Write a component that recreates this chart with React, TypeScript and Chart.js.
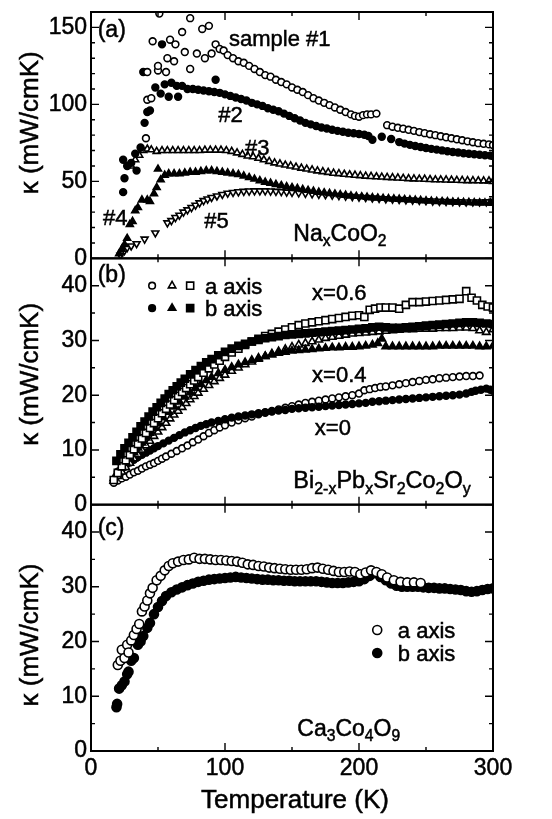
import React, { useEffect, useRef } from 'react';
import { Chart, registerables } from 'chart.js';

Chart.register(...registerables);

type Pt = [number, number];

// ---------- Panel (a): NaxCoO2 ----------
const naSample1: Pt[] = [
  [41, 78], [42, 103], [45, 104], [42, 121], [46, 141], [50, 122], [50, 125], [51, 159], [56, 121], [57, 130],
  [59, 142], [62, 128], [63, 139], [68, 147], [70, 134], [74, 156], [74, 123], [79, 133], [83, 149], [85, 130],
  [88, 151], [90, 133], [93, 139], [96, 136], [99, 135], [102, 132], [106, 130], [110, 128], [114, 127], [118, 125],
  [122, 123], [126, 121], [130, 119], [134, 118], [138, 116], [142, 114.5], [146, 113], [150, 111], [154, 109.5],
  [158, 108], [162, 106], [166, 104], [170, 102.5], [174, 101], [178, 99.5], [182, 98], [186, 96.5], [190, 95],
  [194, 93.5], [197, 92.5], [200, 92], [203, 93], [206, 93.5], [209, 93.5], [213, 94], [221, 86.5], [225, 85.5],
  [229, 84.8], [233, 84.2], [237, 83.5], [241, 82.8], [245, 82], [249, 81.3], [253, 80.6], [257, 80], [261, 79.3],
  [265, 78.6], [269, 78], [273, 77.3], [277, 76.7], [281, 76], [285, 75.4], [289, 74.8], [293, 74.4], [297, 74], [300, 73.6],
];
const naSample2: Pt[] = [
  [24, 43], [25, 52], [24, 64], [27, 60], [30, 62], [33, 68], [34, 57], [37, 72], [39, 121], [40, 88],
  [42, 95], [44, 96], [48, 111], [52, 107], [53, 139], [55, 113], [58, 105], [60, 114], [64, 112], [65, 105],
  [68, 112], [72, 110], [76, 110], [80, 109.5], [84, 109], [88, 108.5], [92, 108], [93, 116], [96, 107.5], [100, 106.5],
  [104, 105.5], [108, 104.5], [112, 103.5], [116, 102.5], [120, 101], [124, 100], [128, 99], [132, 97.5], [136, 96.5],
  [140, 95.5], [144, 94], [148, 92.5], [152, 91], [156, 89.5], [160, 88], [164, 87], [168, 86], [172, 85], [176, 84.3],
  [180, 83.5], [184, 82.8], [188, 82.2], [192, 81.6], [196, 81.2], [200, 80.8], [204, 80.3], [207, 79.5], [210, 77],
  [217, 79], [224, 77.5], [230, 75.5], [234, 74.5], [238, 73.7], [242, 73], [246, 72.3], [250, 71.7], [254, 71.1],
  [258, 70.6], [262, 70.1], [266, 69.6], [270, 69.1], [274, 68.7], [278, 68.3], [282, 67.9], [286, 67.6], [290, 67.3],
  [294, 67], [298, 66.7], [300, 66.5],
];
const naSample3: Pt[] = [
  [30, 60], [33, 64], [36, 67], [39, 70], [42, 71], [45, 70.5], [49, 69.5], [53, 70], [57, 70], [61, 70], [65, 70],
  [69, 70], [73, 70], [77, 70], [81, 70], [85, 70.3], [89, 70.3], [93, 70.3], [97, 70.3], [101, 70], [105, 69.5],
  [109, 68.5], [113, 67.5], [117, 66.5], [121, 66], [125, 65], [129, 64], [133, 63], [137, 62], [141, 61.3], [145, 60.6],
  [149, 60], [153, 59.3], [157, 58.6], [161, 58], [165, 57.4], [169, 56.8], [173, 56.3], [177, 55.8], [181, 55.3],
  [185, 55], [189, 54.6], [193, 54.3], [197, 54], [201, 53.7], [205, 53.4], [209, 53.2], [213, 53], [217, 52.8],
  [221, 52.6], [225, 52.4], [229, 52.2], [233, 52], [237, 51.8], [241, 51.6], [245, 51.5], [249, 51.4], [253, 51.2],
  [257, 51], [261, 51], [265, 50.9], [269, 50.8], [273, 50.7], [277, 50.6], [281, 50.5], [285, 50.5], [289, 50.4],
  [293, 50.3], [297, 50.3], [300, 50],
];
const naSample4: Pt[] = [
  [21, 3], [23, 6], [25, 9], [27, 13], [29, 22], [31, 24], [33, 31], [35, 33], [38, 38], [42, 38], [44, 37], [47, 42],
  [49, 46], [50, 58], [52, 51], [55, 54], [58, 55], [62, 55], [66, 55], [70, 55.5], [74, 56], [78, 56], [82, 56.5],
  [86, 57], [90, 57], [94, 56.5], [98, 56], [102, 55.5], [106, 55], [110, 54.5], [114, 53.5], [118, 52.5], [122, 51.5],
  [126, 50.5], [130, 49.5], [134, 48.8], [138, 48], [142, 47.3], [146, 46.6], [150, 46], [154, 45.4], [158, 44.8],
  [162, 44.2], [166, 43.6], [170, 43], [174, 42.6], [178, 42.2], [182, 41.8], [186, 41.4], [190, 41], [194, 40.6],
  [198, 40.3], [202, 40], [206, 39.7], [210, 39.4], [214, 39.2], [218, 39], [222, 38.8], [226, 38.6], [230, 38.4],
  [234, 38.2], [238, 38], [242, 37.8], [246, 37.6], [250, 37.4], [254, 37.2], [258, 37], [262, 36.9], [266, 36.8],
  [270, 36.6], [274, 36.5], [278, 36.4], [282, 36.3], [286, 36.2], [290, 36.1], [294, 36], [298, 36], [300, 35.8],
];
const naSample5: Pt[] = [
  [22, 2], [25, 5], [27, 7], [30, 8], [34, 9.5], [40, 12.5], [48, 16.5], [57, 23], [60, 24.5], [63, 26.5], [66, 28],
  [69, 30], [72, 31.5], [75, 33], [78, 34.5], [81, 36], [84, 37.5], [87, 38.5], [90, 39.5], [94, 40.5], [98, 41.5],
  [102, 42.3], [106, 42.8], [110, 43.2], [114, 43.5], [118, 43.7], [122, 43.8], [126, 43.8], [130, 43.8], [134, 43.7],
  [138, 43.5], [142, 43.3], [146, 43], [150, 42.8], [155, 42.5], [160, 42.2], [165, 41.9], [170, 41.6], [175, 41.3],
  [180, 41], [185, 40.7], [190, 40.4], [195, 40.1], [200, 39.8], [205, 39.5], [210, 39.2], [215, 38.9], [220, 38.6],
  [225, 38.4], [230, 38.2], [235, 38], [240, 37.8], [245, 37.6], [250, 37.4], [255, 37.2], [260, 37], [265, 36.9],
  [270, 36.8], [275, 36.7], [280, 36.6], [285, 36.6], [290, 36.6], [295, 36.7], [300, 37],
];

// ---------- Panel (b): Bi2-xPbxSr2Co2Oy ----------
const bi00a: Pt[] = [
  [17, 4], [20, 4.4], [23, 4.8], [26, 5.1], [29, 5.5], [32, 5.9], [35, 6.2], [38, 6.6], [41, 7], [44, 7.3], [47, 7.6],
  [50, 8], [53, 8.4], [56, 8.8], [60, 9.3], [64, 9.8], [68, 10.3], [72, 10.8], [76, 11.4], [80, 11.9], [84, 12.5],
  [88, 13.1], [92, 13.6], [96, 14.1], [100, 14.5], [105, 15], [110, 15.4], [115, 15.8], [120, 16.1], [125, 16.5],
  [130, 16.8], [135, 17.1], [140, 17.4], [145, 17.7], [150, 18], [155, 18.3], [160, 18.6], [165, 18.8], [170, 19],
  [175, 19.2], [180, 19.4], [185, 19.6], [190, 19.8], [195, 20], [200, 20.3], [204, 20.9], [208, 21.1], [212, 21.3],
  [216, 21.5], [220, 21.6], [225, 21.8], [230, 22], [235, 22.2], [240, 22.4], [245, 22.6], [250, 22.8], [255, 22.9],
  [260, 23.1], [265, 23.2], [270, 23.3], [275, 23.4], [280, 23.5], [285, 23.5], [290, 23.6],
];
const bi00b: Pt[] = [
  [20, 6], [23, 6.6], [26, 7.2], [29, 7.7], [32, 8.2], [35, 8.7], [38, 9.1], [41, 9.5], [44, 9.9], [47, 10.3],
  [50, 10.7], [54, 11.2], [58, 11.7], [62, 12.2], [66, 12.7], [70, 13.2], [74, 13.6], [78, 14], [82, 14.4], [86, 14.7],
  [90, 15], [95, 15.3], [100, 15.6], [105, 15.9], [110, 16.1], [115, 16.3], [120, 16.5], [125, 16.7], [130, 16.9],
  [135, 17], [140, 17.2], [145, 17.3], [150, 17.5], [155, 17.6], [160, 17.7], [165, 17.8], [170, 17.9], [175, 18],
  [180, 18.1], [185, 18.2], [190, 18.3], [195, 18.4], [200, 18.5], [205, 18.6], [210, 18.8], [215, 18.9], [220, 19],
  [225, 19.1], [230, 19.2], [235, 19.3], [240, 19.4], [245, 19.5], [250, 19.6], [255, 19.7], [260, 19.8], [265, 19.9],
  [270, 20], [275, 20.1], [280, 20.3], [284, 20.6], [287, 20.8], [291, 21], [295, 21.2], [298, 21], [300, 20.8],
];
const bi04a: Pt[] = [
  [17, 4.3], [20, 5.2], [23, 6], [26, 6.8], [29, 7.6], [32, 8.4], [35, 9.2], [38, 10], [41, 10.8], [44, 11.6],
  [47, 12.5], [50, 13.3], [53, 14.1], [56, 14.9], [59, 15.7], [62, 16.4], [65, 17.1], [68, 17.8], [71, 18.5], [74, 19.2],
  [77, 19.8], [80, 20.4], [84, 21.1], [88, 21.8], [92, 22.5], [96, 23.1], [100, 23.7], [105, 24.4], [110, 25], [115, 25.6],
  [120, 26.1], [125, 26.6], [130, 27.1], [135, 27.6], [140, 28], [145, 28.4], [150, 28.8], [155, 29.2], [160, 29.5],
  [165, 29.8], [170, 30.1], [175, 30.4], [180, 30.6], [185, 30.8], [190, 31], [195, 31.2], [200, 31.3], [205, 31.4],
  [210, 31.5], [215, 31.6], [220, 31.7], [225, 31.8], [230, 31.9], [235, 32], [240, 32], [245, 32.1], [250, 32.1],
  [255, 32.1], [260, 32.2], [265, 32.2], [270, 32.2], [275, 32.3], [280, 32.3], [285, 32.2], [290, 31.8], [295, 31.5], [300, 32],
];
const bi04b: Pt[] = [
  [17, 4.8], [20, 5.8], [23, 6.8], [26, 7.7], [29, 8.6], [32, 9.5], [35, 10.4], [38, 11.3], [41, 12.2], [44, 13.1],
  [47, 14], [50, 14.8], [54, 15.9], [58, 16.9], [62, 17.9], [66, 18.8], [70, 19.7], [74, 20.5], [78, 21.3], [82, 22],
  [86, 22.7], [90, 23.3], [95, 24], [100, 24.6], [105, 25.1], [110, 25.6], [115, 26], [120, 26.4], [125, 26.8],
  [130, 27.1], [135, 27.4], [140, 27.7], [145, 27.9], [150, 28.1], [155, 28.2], [160, 28.3], [165, 28.4], [170, 28.5],
  [175, 28.6], [180, 28.7], [185, 28.7], [190, 28.8], [195, 28.8], [200, 28.9], [205, 29], [210, 29.2], [214, 29.5],
  [217, 30.3], [220, 28.9], [225, 28.9], [230, 28.9], [235, 28.9], [240, 28.9], [245, 28.9], [250, 28.9], [255, 28.9],
  [260, 29], [265, 29], [270, 29], [275, 29], [280, 29], [285, 29], [290, 28.9], [295, 28.9], [300, 29],
];
const bi06a: Pt[] = [
  [17, 4.5], [20, 5.8], [23, 7], [26, 8.1], [29, 9.1], [32, 10.1], [35, 11.1], [38, 12.1], [41, 13.1], [44, 14],
  [47, 14.9], [50, 15.8], [53, 16.7], [56, 17.5], [59, 18.3], [62, 19.1], [65, 19.9], [68, 20.6], [71, 21.3], [74, 22],
  [77, 22.7], [80, 23.3], [84, 24.1], [88, 24.9], [92, 25.6], [96, 26.3], [100, 27], [105, 27.8], [110, 28.5], [115, 29.2],
  [120, 29.8], [125, 30.3], [130, 30.8], [135, 31.2], [140, 31.6], [145, 32], [150, 32.4], [155, 32.8], [160, 33.1],
  [165, 33.3], [170, 33.5], [175, 33.7], [180, 33.9], [185, 34.1], [190, 34.3], [195, 34.5], [200, 34.6], [204, 34.3],
  [208, 35.6], [212, 35.8], [216, 36], [220, 36], [225, 36], [230, 35.8], [235, 36.5], [240, 37], [245, 37], [250, 37.1],
  [255, 37.2], [260, 37.3], [265, 37.4], [270, 37.5], [275, 37.6], [280, 39], [284, 37.8], [288, 37.3], [292, 36.5],
  [296, 36.2], [300, 36],
];
const bi06b: Pt[] = [
  [19, 8], [22, 9.2], [25, 10.3], [28, 11.3], [31, 12.3], [34, 13.3], [37, 14.3], [40, 15.2], [43, 16.1], [46, 17],
  [49, 17.8], [52, 18.6], [55, 19.4], [58, 20.2], [61, 20.9], [64, 21.6], [67, 22.3], [70, 23], [74, 23.8], [78, 24.6],
  [82, 25.3], [86, 26], [90, 26.6], [95, 27.3], [100, 27.9], [105, 28.5], [110, 29], [115, 29.4], [120, 29.8], [125, 30.1],
  [130, 30.4], [135, 30.6], [140, 30.8], [145, 31], [150, 31.1], [155, 31.2], [160, 31.3], [165, 31.4], [170, 31.5],
  [175, 31.6], [180, 31.7], [185, 31.8], [190, 31.9], [195, 32], [200, 32.1], [205, 32.2], [210, 32.4], [215, 32.5],
  [220, 32.4], [225, 32.3], [230, 32.3], [235, 32.4], [240, 32.5], [245, 32.6], [250, 32.7], [255, 32.8], [260, 32.9],
  [265, 33], [270, 33.1], [275, 33.2], [280, 33.3], [285, 33.3], [290, 33.2], [295, 33.1], [300, 33],
];

// ---------- Panel (c): Ca3Co4O9 ----------
const caA: Pt[] = [
  [20, 15.7], [22, 16.5], [23, 18.5], [25, 17], [27, 19.4], [28, 18], [30, 20.2], [32, 21.2], [34, 22.3], [36, 23.2],
  [38, 25.5], [40, 26.4], [42, 27.5], [44, 28.8], [46, 29.8], [49, 31.2], [52, 32], [55, 33], [58, 33.8], [61, 34.3],
  [65, 34.6], [69, 34.9], [73, 35], [77, 35.3], [81, 35.1], [85, 35.1], [89, 35], [93, 34.9], [97, 34.9], [101, 34.8],
  [105, 34.7], [109, 34.6], [113, 34.4], [117, 34.1], [121, 34], [125, 33.8], [129, 33.7], [133, 33.5], [137, 33.4],
  [141, 33.3], [145, 33.2], [149, 33.1], [153, 33.1], [157, 33.1], [161, 33.2], [165, 33.4], [169, 33.5], [173, 33.3],
  [177, 33.1], [181, 32.9], [185, 32.7], [189, 32.7], [193, 32.8], [197, 32.7], [201, 32.3], [205, 32.6], [209, 33],
  [213, 32.7], [217, 32.3], [221, 31.7], [226, 31.2], [231, 30.9], [236, 30.8], [241, 30.8], [246, 30.7],
];
const caB: Pt[] = [
  [19, 8], [19.5, 8.6], [21, 11.4], [23, 12], [25, 12.7], [27, 14], [28, 14.5], [30, 16.5], [32, 17], [35, 19.4],
  [37, 20], [39, 21], [42, 22.5], [44, 23.4], [47, 25], [50, 26.3], [53, 27.4], [56, 28.3], [60, 29], [64, 29.5],
  [68, 29.9], [72, 30.3], [76, 30.6], [80, 30.9], [84, 31.1], [88, 31.3], [92, 31.4], [96, 31.5], [100, 31.6],
  [104, 31.7], [108, 31.8], [112, 31.7], [116, 31.6], [120, 31.5], [124, 31.4], [128, 31.3], [132, 31.3], [136, 31.2],
  [140, 31.2], [144, 31.1], [148, 31.1], [152, 31], [156, 31], [160, 31], [164, 31], [168, 31], [172, 30.9], [176, 30.8],
  [180, 30.7], [184, 30.7], [188, 30.7], [192, 30.8], [196, 30.9], [200, 31], [204, 31.4], [208, 32], [212, 32.5],
  [216, 31.8], [220, 31.2], [224, 30.6], [228, 30.2], [232, 30], [236, 30], [240, 30], [244, 30], [248, 29.9], [252, 29.8],
  [256, 29.8], [260, 29.7], [264, 29.7], [268, 29.6], [272, 29.5], [276, 29.4], [280, 29.2], [284, 29.1], [288, 29.2],
  [292, 29.4], [296, 29.6], [300, 29.7],
];

// ---------- Axes ----------
const xTickValues = [0, 100, 200, 300];
const xMinorValues = [50, 150, 250];
const yTicksA = [0, 50, 100, 150];
const yMinorA = [10, 20, 30, 40, 60, 70, 80, 90, 110, 120, 130, 140];
const yTicksBC = [0, 10, 20, 30, 40];
const yMinorBC = [5, 15, 25, 35];
const xLabel = 'Temperature (K)';
const yLabel = 'κ (mW/cmK)';

const FONT = "'Liberation Sans', Arial, Helvetica, sans-serif";
const TEXT_STROKE = 0.5;

// y-title centre (in each panel's own units)
const yTitleCentre: [string, number][] = [['yA', 88], ['yB', 23.8], ['yC', 21.2]];

type Part = [string, 'n' | 's'];
type Ann = { axis: string; x: number; y: number; size: number; parts: Part[] };

const annotations: Ann[] = [
  { axis: 'yA', x: 5, y: 149, size: 23, parts: [['(a)', 'n']] },
  { axis: 'yA', x: 103, y: 143, size: 22, parts: [['sample #1', 'n']] },
  { axis: 'yA', x: 95, y: 94, size: 22, parts: [['#2', 'n']] },
  { axis: 'yA', x: 115, y: 72, size: 22, parts: [['#3', 'n']] },
  { axis: 'yA', x: 9, y: 26.5, size: 22, parts: [['#4', 'n']] },
  { axis: 'yA', x: 84.5, y: 25, size: 22, parts: [['#5', 'n']] },
  { axis: 'yA', x: 151, y: 16.8, size: 23, parts: [['Na', 'n'], ['x', 's'], ['CoO', 'n'], ['2', 's']] },
  { axis: 'yB', x: 5, y: 42.2, size: 23, parts: [['(b)', 'n']] },
  { axis: 'yB', x: 85, y: 40, size: 22, parts: [['a axis', 'n']] },
  { axis: 'yB', x: 85, y: 35.9, size: 22, parts: [['b axis', 'n']] },
  { axis: 'yB', x: 165, y: 38.9, size: 22, parts: [['x=0.6', 'n']] },
  { axis: 'yB', x: 165, y: 23.8, size: 22, parts: [['x=0.4', 'n']] },
  { axis: 'yB', x: 167, y: 14.2, size: 22, parts: [['x=0', 'n']] },
  { axis: 'yB', x: 151, y: 4.5, size: 23.5, parts: [['Bi', 'n'], ['2-x', 's'], ['Pb', 'n'], ['x', 's'], ['Sr', 'n'], ['2', 's'], ['Co', 'n'], ['2', 's'], ['O', 'n'], ['y', 's']] },
  { axis: 'yC', x: 5, y: 41, size: 23, parts: [['(c)', 'n']] },
  { axis: 'yC', x: 229, y: 22.1, size: 22, parts: [['a axis', 'n']] },
  { axis: 'yC', x: 229, y: 17.9, size: 22, parts: [['b axis', 'n']] },
  { axis: 'yC', x: 154, y: 4.3, size: 23, parts: [['Ca', 'n'], ['3', 's'], ['Co', 'n'], ['4', 's'], ['O', 'n'], ['9', 's']] },
];

type Mk = { axis: string; x: number; y: number; style: string; filled: boolean; r: number };
const legendMarks: Mk[] = [
  { axis: 'yB', x: 45.6, y: 40, style: 'circle', filled: false, r: 3.3 },
  { axis: 'yB', x: 60.5, y: 40, style: 'triangle', filled: false, r: 4.3 },
  { axis: 'yB', x: 74, y: 40, style: 'rect', filled: false, r: 5 },
  { axis: 'yB', x: 45.6, y: 35.9, style: 'circle', filled: true, r: 3.3 },
  { axis: 'yB', x: 60.5, y: 35.9, style: 'triangle', filled: true, r: 4.3 },
  { axis: 'yB', x: 74, y: 35.9, style: 'rect', filled: true, r: 5 },
  { axis: 'yC', x: 213.6, y: 22.1, style: 'circle', filled: false, r: 4.5 },
  { axis: 'yC', x: 213.6, y: 17.9, style: 'circle', filled: true, r: 4.5 },
];

function drawMarker(ctx: CanvasRenderingContext2D, m: Mk, x: number, y: number) {
  const r = m.r;
  ctx.beginPath();
  if (m.style === 'circle') ctx.arc(x, y, r, 0, Math.PI * 2);
  else if (m.style === 'triangle') {
    ctx.moveTo(x, y - r);
    ctx.lineTo(x + r * 0.866, y + r / 2);
    ctx.lineTo(x - r * 0.866, y + r / 2);
    ctx.closePath();
  } else {
    const h = r * Math.SQRT1_2;
    ctx.rect(x - h, y - h, 2 * h, 2 * h);
  }
  ctx.fillStyle = m.filled ? '#000' : '#fff';
  ctx.fill();
  ctx.lineWidth = 1.6;
  ctx.strokeStyle = '#000';
  ctx.stroke();
}

function boldText(ctx: CanvasRenderingContext2D, t: string, x: number, y: number) {
  ctx.fillText(t, x, y);
  ctx.lineWidth = TEXT_STROKE;
  ctx.strokeText(t, x, y);
}

const framePlugin = {
  id: 'frameAndLabels',
  afterDatasetsDraw(chart: any) {
    const ctx: CanvasRenderingContext2D = chart.ctx;
    const { left, right } = chart.chartArea;
    const xs = chart.scales.x;
    ctx.save();
    ctx.strokeStyle = '#000';
    ctx.fillStyle = '#000';
    const panels: [string, number[], number[]][] = [
      ['yA', yTicksA, yMinorA],
      ['yB', yTicksBC, yMinorBC],
      ['yC', yTicksBC, yMinorBC],
    ];
    for (const [id, major, minor] of panels) {
      const s = chart.scales[id];
      const top = s.top;
      const bottom = s.bottom;
      ctx.lineWidth = 2;
      ctx.strokeRect(left, top, right - left, bottom - top);
      ctx.lineWidth = 1.4;
      ctx.beginPath();
      for (const v of major) {
        const y = s.getPixelForValue(v);
        ctx.moveTo(left, y); ctx.lineTo(left + 8, y);
        ctx.moveTo(right, y); ctx.lineTo(right - 8, y);
      }
      for (const v of minor) {
        const y = s.getPixelForValue(v);
        ctx.moveTo(left, y); ctx.lineTo(left + 4, y);
        ctx.moveTo(right, y); ctx.lineTo(right - 4, y);
      }
      for (const t of xTickValues) {
        const x = xs.getPixelForValue(t);
        ctx.moveTo(x, top); ctx.lineTo(x, top + 8);
        ctx.moveTo(x, bottom); ctx.lineTo(x, bottom - 8);
      }
      for (const t of xMinorValues) {
        const x = xs.getPixelForValue(t);
        ctx.moveTo(x, top); ctx.lineTo(x, top + 4);
        ctx.moveTo(x, bottom); ctx.lineTo(x, bottom - 4);
      }
      ctx.stroke();
    }
    // axis titles
    ctx.font = `26px ${FONT}`;
    ctx.textAlign = 'center';
    ctx.textBaseline = 'middle';
    for (const [id, v] of yTitleCentre) {
      const s = chart.scales[id];
      ctx.save();
      ctx.translate(s.left + 31, s.getPixelForValue(v));
      ctx.rotate(-Math.PI / 2);
      boldText(ctx, yLabel, 0, 0);
      ctx.restore();
    }
    boldText(ctx, xLabel, (left + right) / 2 + 3, xs.bottom - 18);
    // annotations
    ctx.textAlign = 'left';
    ctx.textBaseline = 'alphabetic';
    for (const a of annotations) {
      const s = chart.scales[a.axis];
      let cx = xs.getPixelForValue(a.x);
      const base = s.getPixelForValue(a.y) + a.size * 0.36;
      for (const [t, kind] of a.parts) {
        const fs = kind === 's' ? a.size * 0.68 : a.size;
        ctx.font = `${fs}px ${FONT}`;
        boldText(ctx, t, cx, base + (kind === 's' ? a.size * 0.22 : 0));
        cx += ctx.measureText(t).width;
      }
    }
    for (const m of legendMarks) {
      const s = chart.scales[m.axis];
      drawMarker(ctx, m, xs.getPixelForValue(m.x), s.getPixelForValue(m.y));
    }
    ctx.restore();
  },
};

function ds(data: Pt[], axis: string, style: string, filled: boolean, r: number, rot = 0) {
  return {
    data: data.map(([x, y]) => ({ x, y })),
    yAxisID: axis,
    pointStyle: style,
    pointRadius: r,
    pointRotation: rot,
    pointBackgroundColor: filled ? '#000' : '#fff',
    pointBorderColor: '#000',
    pointBorderWidth: 1.6,
    showLine: false,
  };
}

const tickFont = { size: 23, family: FONT };

function yScale(min: number, max: number, ticks: number[], weight: number) {
  return {
    type: 'linear',
    position: 'left',
    stack: 'panels',
    stackWeight: 1,
    weight,
    min,
    max,
    grid: { display: false, drawTicks: false },
    border: { display: false },
    ticks: { font: tickFont, color: '#000', padding: 4, textStrokeColor: '#000', textStrokeWidth: TEXT_STROKE },
    title: { display: false },
    afterBuildTicks: (s: any) => { s.ticks = ticks.map((v) => ({ value: v })); },
    afterFit: (s: any) => { s.width = 91; s.paddingTop = 0; s.paddingBottom = 0; },
  };
}

export default function App() {
  const ref = useRef<HTMLCanvasElement | null>(null);
  useEffect(() => {
    if (!ref.current) return;
    const chart = new Chart(ref.current, {
      type: 'scatter',
      data: {
        datasets: [
          ds(naSample1, 'yA', 'circle', false, 3.4),
          ds(naSample2, 'yA', 'circle', true, 3.4),
          ds(naSample3, 'yA', 'triangle', false, 4),
          ds(naSample4, 'yA', 'triangle', true, 4),
          ds(naSample5, 'yA', 'triangle', false, 4, 180),
          ds(bi06b, 'yB', 'rect', true, 5),
          ds(bi06a, 'yB', 'rect', false, 5),
          ds(bi04b, 'yB', 'triangle', true, 4.3),
          ds(bi04a, 'yB', 'triangle', false, 4.3),
          ds(bi00b, 'yB', 'circle', true, 3.4),
          ds(bi00a, 'yB', 'circle', false, 3.4),
          ds(caA, 'yC', 'circle', false, 4.5),
          ds(caB, 'yC', 'circle', true, 4.5),
        ] as any,
      },
      options: {
        responsive: false,
        animation: false,
        layout: { padding: { top: 12, right: 59, left: 0, bottom: 0 } },
        plugins: { legend: { display: false }, tooltip: { enabled: false } },
        scales: {
          x: {
            type: 'linear',
            position: 'bottom',
            min: 0,
            max: 300,
            grid: { display: false, drawTicks: false },
            border: { display: false },
            ticks: { font: tickFont, color: '#000', padding: 4, maxRotation: 0, textStrokeColor: '#000', textStrokeWidth: TEXT_STROKE },
            title: { display: false },
            afterBuildTicks: (s: any) => { s.ticks = xTickValues.map((v) => ({ value: v })); },
            afterFit: (s: any) => { s.height = 68; s.paddingLeft = 0; s.paddingRight = 0; },
          },
          yA: yScale(0, 160, yTicksA, 3),
          yB: yScale(0, 45, yTicksBC, 2),
          yC: yScale(0, 45, yTicksBC, 1),
        } as any,
      },
      plugins: [framePlugin],
    });
    return () => chart.destroy();
  }, []);
  return (
    <div style={{ position: 'absolute', left: 0, top: 0, width: 552, height: 819, background: '#fff' }}>
      <canvas ref={ref} width={552} height={819} style={{ display: 'block' }} />
    </div>
  );
}
